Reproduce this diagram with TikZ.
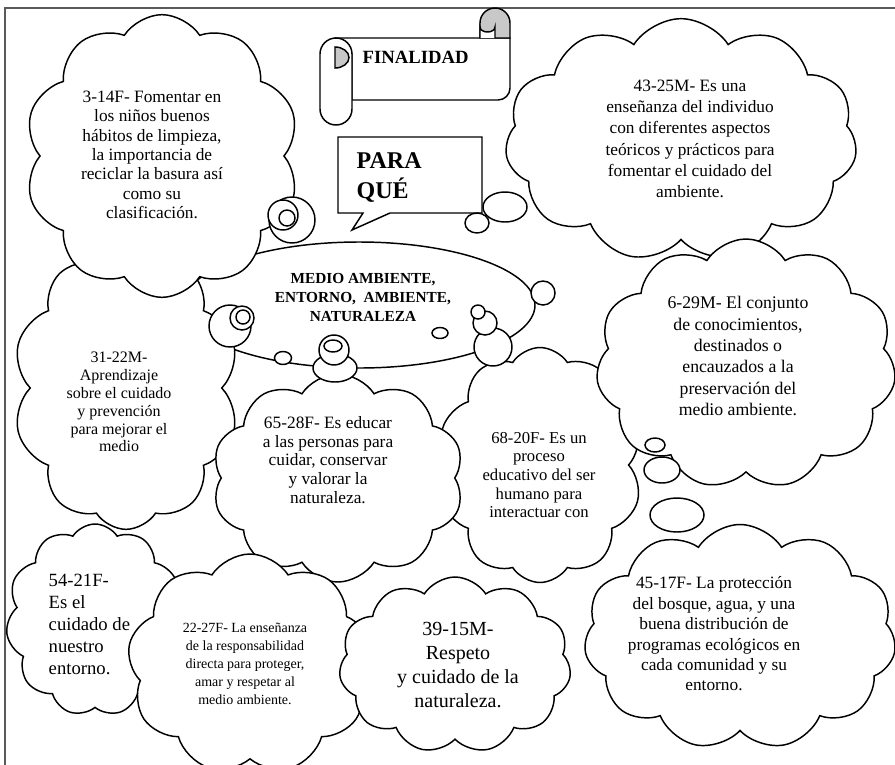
\documentclass[tikz,border=0pt]{standalone}
\usepackage{fontspec}
\setmainfont{Liberation Serif}
\usepackage{tikz}
\usetikzlibrary{shapes.symbols,shapes.geometric,positioning}
\definecolor{rollgray}{RGB}{200,200,200}
\definecolor{framegray}{RGB}{90,90,90}

\begin{document}
\begin{tikzpicture}[x=0.75pt,y=0.75pt,yscale=-1,xscale=1,line width=1.1pt,
  nube/.style={cloud, cloud puffs=#1, cloud puff arc=115, cloud ignores aspect, draw, fill=white, inner sep=0pt},
  nube/.default=11,
  nubetext/.style={align=center, inner sep=0pt},
  burbuja/.style={draw, fill=white},
  rollo/.style={draw, fill=rollgray}]
\useasboundingbox (0,0) rectangle (895,764);

%Shape: Frame
\draw [color=framegray, line width=1.4pt] (5,8) rectangle (898,800);

%Shape: Ellipse
\node [draw, fill=white, ellipse, minimum width=264pt, minimum height=94.5pt, inner sep=0pt] (centro) at (359,305) {};

%Shape: Cloud
\node [nube=10, minimum width=170pt, minimum height=212pt] (c3122) at (126,388) {};
%Shape: Cloud
\node [nube=10, minimum width=206.25pt, minimum height=212pt] (c314) at (162,156) {};
%Shape: Cloud
\node [nube=11, minimum width=264pt, minimum height=182pt] (c4325) at (681,140) {};
%Shape: Cloud
\node [nube=10, minimum width=153.75pt, minimum height=176.25pt] (c6820) at (540,465) {};
%Shape: Cloud
\node [nube=11, minimum width=225pt, minimum height=187.5pt] (c629) at (746,364) {};
%Shape: Cloud
\node [nube=10, minimum width=189pt, minimum height=156pt] (c6528) at (338,478) {};
%Shape: Cloud
\node [nube=11, minimum width=133.5pt, minimum height=144pt] (c5421) at (95,620) {};
%Shape: Cloud
\node [nube=9, minimum width=183.75pt, minimum height=165pt] (c2227) at (250,664) {};
%Shape: Cloud
\node [nube=11, minimum width=174pt, minimum height=132pt] (c3915) at (455,665) {};
%Shape: Cloud
\node [nube=11, minimum width=234pt, minimum height=168.75pt] (c4517) at (740,637) {};

%Shape: Horizontal Scroll
\draw [fill=white] (336,38) -- (510,38) -- (510,88) arc (0:90:12) -- (352,100) -- (352,54) -- cycle ;
\draw [fill=white] (320,54) -- (320,109) arc (180:0:16) -- (352,54) arc (0:-180:16) -- cycle ;
\draw [rollo] (335,68) arc (90:-90:14 and 10.5) -- cycle ;
\draw [rollo] (480,38) -- (480,23) arc (180:360:15) -- (510,38) -- cycle ;
\draw [fill=white] (480,38) -- (480,27) arc (180:0:7.5 and 5) -- (495,38) ;

%Shape: Rectangular Callout
\draw [fill=white] (338,137) -- (482,137) -- (482,213) -- (390,213) -- (352,230) -- (363,213) -- (338,213) -- cycle ;

%Shape: Bubbles
\draw [burbuja] (292,220) circle (23);
\draw [burbuja] (283,215) circle (15);
\draw [burbuja] (287,218) circle (8);
\draw [burbuja] (505,207) ellipse (22 and 15);
\draw [burbuja] (477,223) ellipse (12 and 10);
\draw [burbuja] (230,326) circle (21);
\draw [burbuja] (242,318) circle (12);
\draw [burbuja] (243,317) circle (7);
\draw [burbuja] (283,358) ellipse (8.5 and 6.5);
\draw [burbuja] (335,368) ellipse (22 and 14);
\draw [burbuja] (334,350) circle (15);
\draw [burbuja] (333,346) ellipse (9 and 6);
\draw [burbuja] (440,333) ellipse (8 and 5.5);
\draw [burbuja] (493,347) circle (19);
\draw [burbuja] (485,323) circle (12);
\draw [burbuja] (478,312) circle (7);
\draw [burbuja] (543,293) circle (12);
\draw [burbuja] (655,445) ellipse (10 and 7);
\draw [burbuja] (662,470) ellipse (18 and 13);
\draw [burbuja] (677,515) ellipse (27 and 17);

% Text Node
\node [anchor=base west, inner sep=0pt, font=\bfseries\fontsize{14}{16}\selectfont] (finalidad) at (362,63) {FINALIDAD};
% Text Node
\node [anchor=north west, align=left, inner sep=0pt, font=\bfseries\fontsize{18}{22.5}\selectfont] (paraque) at (356,152) {PARA\\QUÉ};
% Text Node
\node [nubetext, font=\bfseries\fontsize{11.5}{14.25}\selectfont] (tcentro) at (363,297) {MEDIO AMBIENTE,\\ENTORNO,~ AMBIENTE,\\NATURALEZA};
% Text Node
\node [nubetext, font=\fontsize{13}{14.5}\selectfont] (t314) at (152,155) {3-14F- Fomentar en\\los niños buenos\\hábitos de limpieza,\\la importancia de\\reciclar la basura así\\como su\\clasificación.};
% Text Node
\node [nubetext, font=\fontsize{13}{16}\selectfont] (t4325) at (690,139) {43-25M- Es una\\enseñanza del individuo\\con diferentes aspectos\\teóricos y prácticos para\\fomentar el cuidado del\\ambiente.};
% Text Node
\node [nubetext, font=\fontsize{12}{13.4}\selectfont] (t3122) at (119,402) {31-22M-\\Aprendizaje\\sobre el cuidado\\y prevención\\para mejorar el\\medio};
% Text Node
\node [nubetext, font=\fontsize{13.3}{16}\selectfont] (t629) at (738,356) {6-29M- El conjunto\\de conocimientos,\\destinados o\\encauzados a la\\preservación del\\medio ambiente.};
% Text Node
\node [nubetext, font=\fontsize{13}{14}\selectfont] (t6528) at (328,460) {65-28F- Es educar\\a las personas para\\cuidar, conservar\\y valorar la\\naturaleza.};
% Text Node
\node [nubetext, font=\fontsize{12.5}{14}\selectfont] (t6820) at (539,475) {68-20F- Es un\\proceso\\educativo del ser\\humano para\\interactuar con};
% Text Node
\node [anchor=west, align=left, inner sep=0pt, font=\fontsize{14}{16.5}\selectfont] (t5421) at (48,624) {54-21F-\\Es el\\cuidado de\\nuestro\\entorno.};
% Text Node
\node [nubetext, font=\fontsize{10.5}{13.5}\selectfont] (t2227) at (245,664) {22-27F- La enseñanza\\de la responsabilidad\\directa para proteger,\\amar y respetar al\\medio ambiente.};
% Text Node
\node [nubetext, font=\fontsize{15}{18}\selectfont] (t3915) at (458,665) {39-15M-\\Respeto\\y cuidado de la\\naturaleza.};
% Text Node
\node [nubetext, font=\fontsize{13}{15.3}\selectfont] (t4517) at (714,634) {45-17F- La protección\\del bosque, agua, y una\\buena distribución de\\programas ecológicos en\\cada comunidad y su\\entorno.};

\end{tikzpicture}
\end{document}
